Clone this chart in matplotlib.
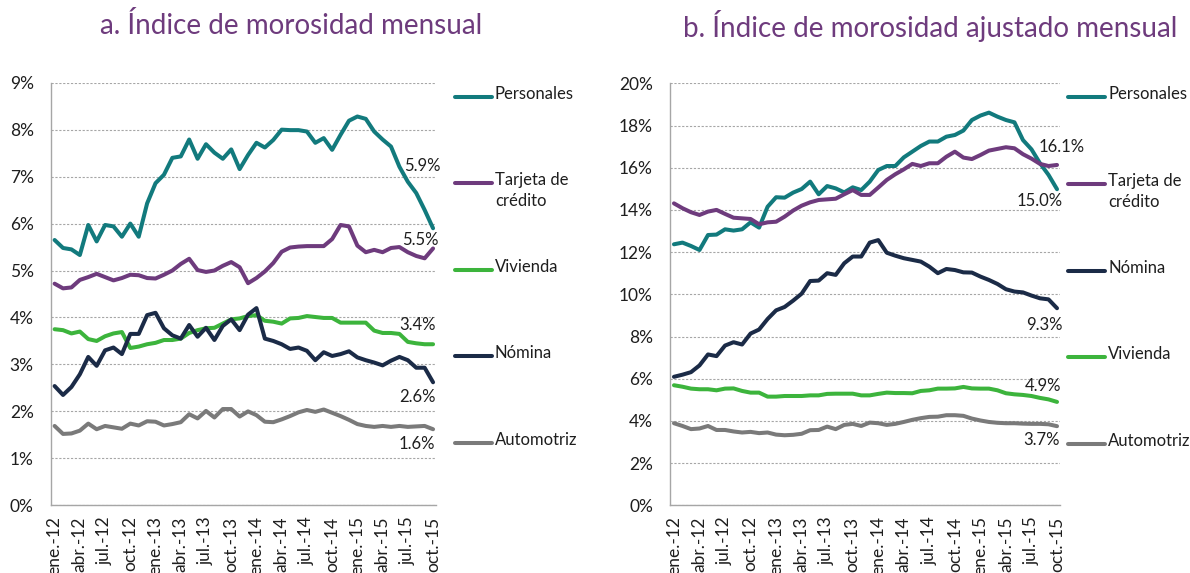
import matplotlib
matplotlib.use("Agg")
import matplotlib.pyplot as plt
from matplotlib.lines import Line2D
import numpy as np

plt.rcParams['font.family'] = ['Lato', 'DejaVu Sans']

months = ["ene.", "feb.", "mar.", "abr.", "may.", "jun.", "jul.", "ago.", "sep.", "oct.", "nov.", "dic."]
dates = [f"{months[i % 12]}-{12 + i // 12}" for i in range(46)]
tick_idx = list(range(0, 46, 3))

# Panel a: Índice de morosidad mensual (%)
a_personales = [5.65, 5.48, 5.45, 5.33, 5.97, 5.62, 5.97, 5.94, 5.72, 6.00, 5.72, 6.43, 6.86, 7.04, 7.40, 7.43,
                7.79, 7.38, 7.69, 7.51, 7.38, 7.58, 7.16, 7.46, 7.72, 7.62, 7.78, 8.00, 7.99, 7.99, 7.96, 7.72,
                7.82, 7.57, 7.89, 8.19, 8.28, 8.23, 7.96, 7.79, 7.64, 7.21, 6.89, 6.65, 6.29, 5.90]
a_tarjeta = [4.72, 4.62, 4.64, 4.80, 4.86, 4.93, 4.86, 4.79, 4.84, 4.91, 4.90, 4.84, 4.83, 4.91, 5.00, 5.14,
             5.25, 5.01, 4.97, 5.00, 5.10, 5.18, 5.07, 4.73, 4.84, 4.98, 5.16, 5.40, 5.49, 5.51, 5.52, 5.52,
             5.52, 5.67, 5.97, 5.94, 5.53, 5.39, 5.44, 5.39, 5.48, 5.50, 5.39, 5.31, 5.26, 5.47]
a_vivienda = [3.75, 3.73, 3.66, 3.70, 3.54, 3.50, 3.60, 3.66, 3.69, 3.35, 3.38, 3.43, 3.46, 3.52, 3.52, 3.55,
              3.67, 3.73, 3.77, 3.78, 3.87, 3.96, 3.98, 4.03, 4.05, 3.93, 3.91, 3.87, 3.98, 3.99, 4.03, 4.01,
              3.99, 3.99, 3.89, 3.89, 3.89, 3.89, 3.72, 3.67, 3.67, 3.65, 3.48, 3.45, 3.43, 3.43]
a_nomina = [2.54, 2.35, 2.52, 2.79, 3.16, 2.97, 3.30, 3.36, 3.22, 3.65, 3.65, 4.05, 4.10, 3.77, 3.62, 3.55,
            3.84, 3.59, 3.78, 3.52, 3.82, 3.96, 3.73, 4.06, 4.20, 3.55, 3.50, 3.43, 3.33, 3.36, 3.29, 3.09,
            3.26, 3.18, 3.22, 3.28, 3.15, 3.09, 3.04, 2.98, 3.08, 3.16, 3.09, 2.93, 2.93, 2.62]
a_automotriz = [1.69, 1.52, 1.53, 1.59, 1.74, 1.62, 1.69, 1.66, 1.63, 1.74, 1.70, 1.79, 1.78, 1.70, 1.73, 1.77,
                1.94, 1.85, 2.01, 1.87, 2.05, 2.05, 1.89, 2.00, 1.92, 1.78, 1.77, 1.83, 1.90, 1.98, 2.03, 1.99,
                2.04, 1.97, 1.90, 1.82, 1.73, 1.69, 1.67, 1.69, 1.67, 1.69, 1.67, 1.68, 1.69, 1.62]

# Panel b: Índice de morosidad ajustado mensual (%)
b_personales = [12.37, 12.45, 12.29, 12.10, 12.81, 12.83, 13.08, 13.02, 13.08, 13.41, 13.16, 14.15, 14.60, 14.58,
                14.82, 14.99, 15.34, 14.74, 15.13, 15.02, 14.83, 15.07, 14.94, 15.34, 15.89, 16.08, 16.08, 16.49,
                16.76, 17.03, 17.24, 17.24, 17.47, 17.55, 17.76, 18.26, 18.47, 18.61, 18.42, 18.26, 18.15, 17.31,
                16.87, 16.21, 15.66, 14.98]
b_tarjeta = [14.31, 14.08, 13.89, 13.76, 13.92, 14.00, 13.81, 13.63, 13.60, 13.57, 13.32, 13.41, 13.44, 13.68,
             13.97, 14.20, 14.36, 14.47, 14.50, 14.53, 14.74, 14.94, 14.71, 14.71, 15.06, 15.42, 15.69, 15.92,
             16.18, 16.08, 16.21, 16.21, 16.52, 16.76, 16.48, 16.41, 16.60, 16.81, 16.89, 16.97, 16.92, 16.64,
             16.43, 16.18, 16.08, 16.13]
b_nomina = [6.09, 6.19, 6.31, 6.63, 7.15, 7.07, 7.57, 7.73, 7.62, 8.14, 8.33, 8.83, 9.24, 9.40, 9.70, 10.03,
            10.63, 10.65, 11.00, 10.92, 11.47, 11.79, 11.79, 12.45, 12.57, 11.97, 11.83, 11.71, 11.63, 11.55,
            11.31, 11.00, 11.20, 11.15, 11.04, 11.03, 10.84, 10.68, 10.49, 10.24, 10.13, 10.09, 9.94, 9.81,
            9.76, 9.34]
b_vivienda = [5.69, 5.62, 5.53, 5.50, 5.50, 5.45, 5.53, 5.54, 5.42, 5.34, 5.34, 5.15, 5.15, 5.18, 5.18, 5.18,
              5.21, 5.21, 5.28, 5.29, 5.29, 5.29, 5.21, 5.21, 5.28, 5.34, 5.32, 5.32, 5.31, 5.42, 5.45, 5.53,
              5.53, 5.54, 5.61, 5.54, 5.53, 5.53, 5.45, 5.31, 5.26, 5.23, 5.18, 5.09, 5.02, 4.90]
b_automotriz = [3.89, 3.76, 3.61, 3.64, 3.76, 3.57, 3.57, 3.50, 3.45, 3.48, 3.42, 3.45, 3.35, 3.32, 3.34, 3.39,
                3.56, 3.57, 3.73, 3.61, 3.81, 3.86, 3.76, 3.92, 3.89, 3.81, 3.86, 3.95, 4.05, 4.13, 4.19, 4.20,
                4.27, 4.27, 4.24, 4.11, 4.02, 3.95, 3.91, 3.89, 3.89, 3.87, 3.86, 3.86, 3.84, 3.75]

end_labels_a = {"Personales": "5.9%", "Tarjeta": "5.5%", "Vivienda": "3.4%", "Nómina": "2.6%", "Automotriz": "1.6%"}
end_labels_b = {"Personales": "15.0%", "Tarjeta": "16.1%", "Vivienda": "4.9%", "Nómina": "9.3%", "Automotriz": "3.7%"}

colors = {"Personales": "#127A7D", "Tarjeta": "#6E3B7D", "Vivienda": "#3CB43C",
          "Nómina": "#1B2B47", "Automotriz": "#7A7A7A"}
legend_names = {"Personales": "Personales", "Tarjeta": "Tarjeta de\ncrédito", "Vivienda": "Vivienda",
                "Nómina": "Nómina", "Automotriz": "Automotriz"}

W, H = 1190, 573
fig = plt.figure(figsize=(W / 100, H / 100), dpi=100)

def fx(px):
    return px / W

def fy(py):
    return 1 - py / H

x = np.arange(46)
title_color = "#6E3B7D"
grid_color = "#A6A6A6"
text_color = "#1E1E1E"
fs = 12.5

panels = [
    dict(rect=[fx(51), fy(505.3), fx(436) - fx(51), fy(82.7) - fy(505.3)],
         series={"Personales": a_personales, "Tarjeta": a_tarjeta, "Vivienda": a_vivienda,
                 "Nómina": a_nomina, "Automotriz": a_automotriz},
         ylim=(0, 9), yticks=np.arange(0, 10, 1), labels=end_labels_a,
         offsets={"Personales": (-11, 62), "Tarjeta": (-13, 8), "Vivienda": (-16, 19),
                  "Nómina": (-16, -15), "Automotriz": (-16, -15)},
         title="a. Índice de morosidad mensual", title_x=291,
         legend_order=["Personales", "Tarjeta", "Vivienda", "Nómina", "Automotriz"],
         legend_x=455, legend_y=[96.7, 183.3, 270, 356, 443]),
    dict(rect=[fx(670.3), fy(505.3), fx(1060) - fx(670.3), fy(83.3) - fy(505.3)],
         series={"Personales": b_personales, "Tarjeta": b_tarjeta, "Vivienda": b_vivienda,
                 "Nómina": b_nomina, "Automotriz": b_automotriz},
         ylim=(0, 20), yticks=np.arange(0, 21, 2), labels=end_labels_b,
         offsets={"Personales": (-17, -12), "Tarjeta": (5, 18), "Vivienda": (-14, 16),
                  "Nómina": (-13, -17), "Automotriz": (-15, -14)},
         title="b. Índice de morosidad ajustado mensual", title_x=930,
         legend_order=["Personales", "Tarjeta", "Nómina", "Vivienda", "Automotriz"],
         legend_x=1068, legend_y=[96.7, 184, 270.7, 356.7, 444]),
]

for p in panels:
    ax = fig.add_axes(p["rect"])
    for name, vals in p["series"].items():
        ax.plot(x, vals, color=colors[name], lw=2.9, solid_joinstyle="round", solid_capstyle="round",
                zorder=3)
        dx, dy = p["offsets"][name]
        ax.annotate(p["labels"][name], xy=(x[-1], vals[-1]), xytext=(dx, dy),
                    textcoords="offset pixels", ha="center", va="center", fontsize=12,
                    color=text_color, zorder=4)
    ax.set_xlim(-0.43, 45.35)
    ax.set_ylim(*p["ylim"])
    ax.set_yticks(p["yticks"])
    ax.set_yticklabels([f"{int(v)}%" for v in p["yticks"]], fontsize=fs, color=text_color)
    ax.set_xticks(tick_idx)
    ax.set_xticklabels([dates[i] for i in tick_idx], rotation=90, fontsize=fs, color=text_color,
                       va="top", ha="center")
    ax.tick_params(axis="y", length=0, pad=12.5)
    ax.tick_params(axis="x", length=0, pad=8)
    for s in ["top", "right"]:
        ax.spines[s].set_visible(False)
    for s in ["left", "bottom"]:
        ax.spines[s].set_color(grid_color)
        ax.spines[s].set_linewidth(1.0)
    ax.yaxis.grid(True, color=grid_color, linestyle=(0, (2, 1.5)), linewidth=0.8)
    ax.set_axisbelow(True)
    ax.patch.set_alpha(0)

    fig.text(fx(p["title_x"]), fy(26), p["title"], ha="center", va="center", fontsize=20,
             color=title_color)

    for name, ly in zip(p["legend_order"], p["legend_y"]):
        fig.add_artist(Line2D([fx(p["legend_x"]), fx(p["legend_x"] + 37)], [fy(ly), fy(ly)],
                              color=colors[name], lw=2.9, solid_capstyle="round",
                              transform=fig.transFigure))
        fig.text(fx(p["legend_x"] + 40), fy(ly - 11), legend_names[name], ha="left", va="top",
                 fontsize=12, color=text_color, linespacing=1.4,
                 transform=fig.transFigure)

fig.savefig("out.png", dpi=100)
